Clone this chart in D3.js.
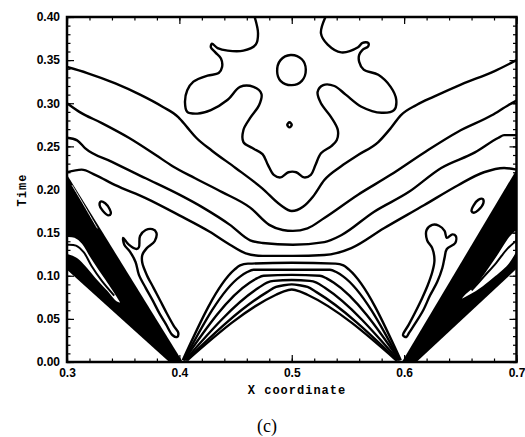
<!DOCTYPE html>
<html>
<head>
<meta charset="utf-8">
<script src="https://cdn.jsdelivr.net/npm/d3@7"></script>
<style>
  body { margin: 0; background: #fff; }
  svg { display: block; }
  .tick text { font-family: "Liberation Sans", Arial, sans-serif; font-weight: bold; font-size: 12px; }
  .tick line { stroke: #000; stroke-width: 1.2; }
</style>
</head>
<body>
<svg id="chart" width="525" height="437"></svg>
<script>
// ticks
const xTicks = [0.3, 0.4, 0.5, 0.6, 0.7];
const xTickLabels = ["0.3", "0.4", "0.5", "0.6", "0.7"];
const yTicks = [0, 0.05, 0.1, 0.15, 0.2, 0.25, 0.3, 0.35, 0.4];
const yTickLabels = ["0.00", "0.05", "0.10", "0.15", "0.20", "0.25", "0.30", "0.35", "0.40"];

// contour lines, [x, time]
const blob = [[0.467,0.400],[0.470,0.381],[0.468,0.368],[0.457,0.361],[0.443,0.361],[0.434,0.364],[0.429,0.369],[0.428,0.365],[0.432,0.359],[0.437,0.352],[0.438,0.342],[0.435,0.335],[0.425,0.332],[0.4125,0.325],[0.407,0.315],[0.405,0.301],[0.407,0.290],[0.416,0.288],[0.428,0.292],[0.443,0.304],[0.454,0.319],[0.466,0.319],[0.473,0.311],[0.471,0.298],[0.463,0.283],[0.457,0.269],[0.457,0.255],[0.465,0.248],[0.474,0.241],[0.479,0.228],[0.484,0.217],[0.490,0.214],[0.497,0.220],[0.504,0.220],[0.511,0.214],[0.517,0.217],[0.521,0.228],[0.526,0.242],[0.535,0.250],[0.540,0.257],[0.541,0.269],[0.535,0.284],[0.526,0.300],[0.523,0.313],[0.528,0.321],[0.538,0.320],[0.548,0.310],[0.562,0.296],[0.580,0.289],[0.591,0.292],[0.593,0.304],[0.588,0.319],[0.577,0.333],[0.564,0.339],[0.560,0.348],[0.560,0.356],[0.563,0.362],[0.568,0.366],[0.568,0.370],[0.563,0.370],[0.559,0.365],[0.544,0.359],[0.532,0.368],[0.526,0.381],[0.530,0.400]];
const ring = [[0.499,0.356],[0.509,0.351],[0.5125,0.339],[0.509,0.326],[0.500,0.321],[0.490,0.326],[0.487,0.337],[0.490,0.350]];
const dot = [[0.498,0.278],[0.500,0.275],[0.498,0.272],[0.496,0.275]];

const lineA = [[0.300,0.342],[0.318,0.335],[0.343,0.323],[0.365,0.310],[0.385,0.296],[0.399,0.284],[0.407,0.272],[0.415,0.260],[0.429,0.245],[0.450,0.225],[0.474,0.201],[0.490,0.182],[0.500,0.175],[0.510,0.180],[0.519,0.192],[0.529,0.211],[0.544,0.227],[0.559,0.240],[0.577,0.255],[0.588,0.271],[0.597,0.286],[0.611,0.298],[0.627,0.308],[0.651,0.322],[0.680,0.337],[0.700,0.350]];
const lineB = [[0.300,0.300],[0.311,0.290],[0.331,0.277],[0.355,0.260],[0.379,0.240],[0.394,0.227],[0.414,0.213],[0.438,0.197],[0.463,0.179],[0.480,0.159],[0.492,0.153],[0.501,0.152],[0.514,0.155],[0.529,0.167],[0.559,0.194],[0.588,0.217],[0.618,0.243],[0.648,0.267],[0.678,0.286],[0.693,0.298],[0.700,0.303]];
const lineC = [[0.300,0.260],[0.309,0.257],[0.316,0.248],[0.340,0.232],[0.370,0.213],[0.400,0.194],[0.421,0.179],[0.445,0.159],[0.463,0.141],[0.474,0.138],[0.501,0.136],[0.529,0.139],[0.544,0.147],[0.573,0.174],[0.604,0.197],[0.633,0.225],[0.663,0.243],[0.684,0.260],[0.689,0.263],[0.700,0.263]];
const lineD = [[0.300,0.220],[0.313,0.223],[0.325,0.217],[0.343,0.205],[0.370,0.190],[0.400,0.170],[0.427,0.151],[0.445,0.136],[0.459,0.126],[0.474,0.123],[0.501,0.123],[0.529,0.124],[0.553,0.132],[0.582,0.155],[0.618,0.182],[0.648,0.205],[0.671,0.220],[0.689,0.225],[0.700,0.223]];

const lower1 = [[0.403,0.002],[0.449,0.107],[0.454,0.112],[0.461,0.114],[0.500,0.115],[0.539,0.114],[0.546,0.112],[0.551,0.107],[0.597,0.002]];
const lower2 = [[0.404,0.002],[0.454,0.099],[0.460,0.104],[0.466,0.107],[0.500,0.107],[0.534,0.107],[0.540,0.104],[0.546,0.099],[0.596,0.002]];
const lower3 = [[0.404,0.002],[0.4625,0.092],[0.469,0.097],[0.475,0.100],[0.500,0.101],[0.525,0.100],[0.531,0.097],[0.5375,0.092],[0.596,0.002]];
const lower4 = [[0.405,0.002],[0.4705,0.086],[0.478,0.092],[0.484,0.094],[0.500,0.095],[0.516,0.094],[0.522,0.092],[0.5295,0.086],[0.595,0.002]];
const lower5 = [[0.406,0.002],[0.478,0.081],[0.486,0.087],[0.493,0.089],[0.500,0.090],[0.507,0.089],[0.514,0.087],[0.522,0.081],[0.594,0.002]];
const lower6 = [[0.407,0.002],[0.486,0.078],[0.493,0.082],[0.500,0.084],[0.507,0.082],[0.514,0.078],[0.593,0.002]];

const fingerLeft = [[0.350,0.144],[0.355,0.136],[0.362,0.131],[0.364,0.133],[0.365,0.146],[0.370,0.153],[0.376,0.154],[0.3795,0.150],[0.378,0.140],[0.371,0.132],[0.367,0.124],[0.367,0.115],[0.371,0.101],[0.377,0.086],[0.383,0.071],[0.389,0.056],[0.395,0.042],[0.399,0.034],[0.398,0.029],[0.394,0.031],[0.388,0.044],[0.382,0.057],[0.376,0.072],[0.370,0.086],[0.364,0.101],[0.361,0.116],[0.356,0.128],[0.351,0.136]];
const fingerRight = [[0.620,0.153],[0.625,0.159],[0.631,0.158],[0.636,0.152],[0.638,0.144],[0.643,0.148],[0.646,0.146],[0.6455,0.138],[0.638,0.131],[0.636,0.121],[0.634,0.109],[0.6295,0.093],[0.623,0.077],[0.617,0.060],[0.610,0.045],[0.6045,0.034],[0.602,0.029],[0.599,0.031],[0.604,0.043],[0.610,0.058],[0.616,0.074],[0.621,0.089],[0.625,0.104],[0.627,0.118],[0.625,0.132],[0.6205,0.141]];
const islandLeft = [[0.330,0.186],[0.334,0.184],[0.338,0.177],[0.339,0.172],[0.337,0.170],[0.332,0.175],[0.329,0.182]];
const islandRight = [[0.670,0.189],[0.6705,0.184],[0.666,0.176],[0.662,0.173],[0.660,0.175],[0.662,0.182],[0.666,0.188]];

// crowded bands near the side walls
const wedgeLeft = [[0.300,0.217],[0.403,0.000],[0.391,0.000],[0.300,0.107]];
const wedgeRight = [[0.700,0.223],[0.598,0.000],[0.611,0.000],[0.700,0.108]];
const sliverLeft = [[0.300,0.146],[0.307,0.145],[0.314,0.138],[0.3205,0.124],[0.328,0.109],[0.337,0.092],[0.3455,0.075],[0.348,0.068],[0.344,0.069],[0.335,0.082],[0.325,0.096],[0.316,0.110],[0.308,0.120],[0.300,0.124]];
const sliverRight = [[0.700,0.155],[0.693,0.146],[0.682,0.124],[0.673,0.107],[0.6625,0.089],[0.653,0.078],[0.650,0.072],[0.660,0.078],[0.6705,0.087],[0.682,0.099],[0.693,0.112],[0.700,0.126]];
const sliverLineLeft = [[0.300,0.136],[0.308,0.135],[0.315,0.127],[0.322,0.111],[0.331,0.094],[0.342,0.077]];
const sliverLineRight = [[0.700,0.141],[0.691,0.130],[0.682,0.115],[0.671,0.099],[0.660,0.083]];
const streakLeft = [[0.3045,0.205],[0.315,0.182],[0.327,0.155]];
const streakRight = [[0.691,0.205],[0.682,0.188],[0.673,0.170]];

const openLines = [lineA, lineB, lineC, lineD, lower1, lower2, lower3, lower4, lower5, lower6];
const closedLines = [ring, dot, fingerLeft, fingerRight, islandLeft, islandRight];

const svg = d3.select("#chart");
const x = d3.scaleLinear().domain([0.3, 0.7]).range([67, 516.5]);
const y = d3.scaleLinear().domain([0, 0.4]).range([362, 17]);

svg.append("defs").append("clipPath").attr("id", "plot")
  .append("rect")
  .attr("x", x(0.3)).attr("y", y(0.4))
  .attr("width", x(0.7) - x(0.3)).attr("height", y(0) - y(0.4));

const plot = svg.append("g").attr("clip-path", "url(#plot)");

const poly = d3.line().x(d => x(d[0])).y(d => y(d[1]));
const smooth = d3.line().x(d => x(d[0])).y(d => y(d[1])).curve(d3.curveMonotoneX);
const loop = d3.line().x(d => x(d[0])).y(d => y(d[1])).curve(d3.curveCatmullRomClosed.alpha(0.5));
const open = d3.line().x(d => x(d[0])).y(d => y(d[1])).curve(d3.curveCatmullRom.alpha(0.5));

plot.selectAll("path.wedge")
  .data([wedgeLeft, wedgeRight])
  .enter().append("path")
  .attr("class", "wedge")
  .attr("d", d => poly(d) + "Z")
  .attr("fill", "#000");

plot.selectAll("path.sliver")
  .data([sliverLeft, sliverRight])
  .enter().append("path")
  .attr("class", "sliver")
  .attr("d", d => open(d) + "Z")
  .attr("fill", "#fff")
  .attr("stroke", "#000")
  .attr("stroke-width", 2);

plot.selectAll("path.sliverline")
  .data([sliverLineLeft, sliverLineRight])
  .enter().append("path")
  .attr("class", "sliverline")
  .attr("d", open)
  .attr("fill", "none")
  .attr("stroke", "#000")
  .attr("stroke-width", 2);

plot.selectAll("path.streak")
  .data([streakLeft, streakRight])
  .enter().append("path")
  .attr("class", "streak")
  .attr("d", open)
  .attr("fill", "none")
  .attr("stroke", "#fff")
  .attr("stroke-width", 0.9);

plot.selectAll("path.level")
  .data(openLines)
  .enter().append("path")
  .attr("class", "level")
  .attr("d", smooth)
  .attr("fill", "none")
  .attr("stroke", "#000")
  .attr("stroke-width", 2.4)
  .attr("stroke-linejoin", "round");

plot.append("path")
  .attr("d", open(blob))
  .attr("fill", "none")
  .attr("stroke", "#000")
  .attr("stroke-width", 2.4);

plot.selectAll("path.loop")
  .data(closedLines)
  .enter().append("path")
  .attr("class", "loop")
  .attr("d", loop)
  .attr("fill", "none")
  .attr("stroke", "#000")
  .attr("stroke-width", 2.4);

// axes, ticks pointing inward on all four sides
const xMinor = d3.range(0.3, 0.7001, 0.02);
const yMinor = d3.range(0, 0.4001, 0.01);

function noDomain(g) { g.select(".domain").remove(); }

svg.append("g").attr("transform", `translate(0,${y(0)})`)
  .call(d3.axisBottom(x).tickValues(xMinor).tickSize(-3.5).tickFormat("")).call(noDomain);
svg.append("g").attr("transform", `translate(0,${y(0)})`)
  .call(d3.axisBottom(x).tickValues(xTicks).tickSize(-7).tickPadding(6).tickFormat((d, i) => xTickLabels[i]))
  .call(noDomain);
svg.append("g").attr("transform", `translate(0,${y(0.4)})`)
  .call(d3.axisTop(x).tickValues(xMinor).tickSize(-3.5).tickFormat("")).call(noDomain);
svg.append("g").attr("transform", `translate(0,${y(0.4)})`)
  .call(d3.axisTop(x).tickValues(xTicks).tickSize(-7).tickFormat("")).call(noDomain);

svg.append("g").attr("transform", `translate(${x(0.3)},0)`)
  .call(d3.axisLeft(y).tickValues(yMinor).tickSize(-3.5).tickFormat("")).call(noDomain);
svg.append("g").attr("transform", `translate(${x(0.3)},0)`)
  .call(d3.axisLeft(y).tickValues(yTicks).tickSize(-7).tickPadding(7).tickFormat((d, i) => yTickLabels[i]))
  .call(noDomain);
svg.append("g").attr("transform", `translate(${x(0.7)},0)`)
  .call(d3.axisRight(y).tickValues(yMinor).tickSize(-3.5).tickFormat("")).call(noDomain);
svg.append("g").attr("transform", `translate(${x(0.7)},0)`)
  .call(d3.axisRight(y).tickValues(yTicks).tickSize(-7).tickFormat("")).call(noDomain);

svg.append("rect")
  .attr("x", x(0.3)).attr("y", y(0.4))
  .attr("width", x(0.7) - x(0.3)).attr("height", y(0) - y(0.4))
  .attr("fill", "none")
  .attr("stroke", "#000")
  .attr("stroke-width", 2.5);

svg.append("text")
  .attr("x", 297).attr("y", 394)
  .attr("text-anchor", "middle")
  .style("font-family", "'Liberation Mono', 'DejaVu Sans Mono', monospace")
  .style("font-weight", "bold")
  .style("font-size", "12px")
  .style("letter-spacing", "1px")
  .text("X coordinate");

svg.append("text")
  .attr("transform", "translate(26,190) rotate(-90)")
  .attr("text-anchor", "middle")
  .style("font-family", "'Liberation Mono', 'DejaVu Sans Mono', monospace")
  .style("font-weight", "bold")
  .style("font-size", "12px")
  .style("letter-spacing", "1px")
  .text("Time");

svg.append("text")
  .attr("x", 267).attr("y", 432)
  .attr("text-anchor", "middle")
  .style("font-family", "'Liberation Serif', 'DejaVu Serif', serif")
  .style("font-size", "18px")
  .text("(c)");
</script>
</body>
</html>
